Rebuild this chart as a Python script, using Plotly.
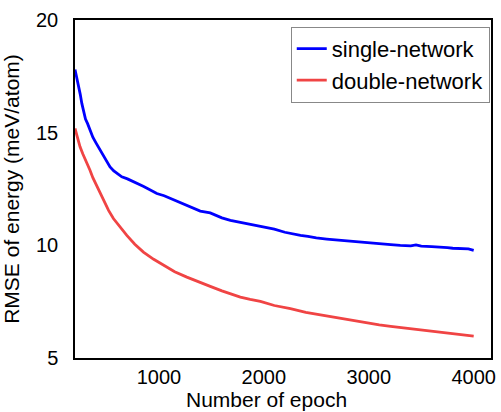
import plotly.graph_objects as go

epoch_single = [200, 215, 230, 250, 265, 279, 300, 320, 343, 370, 400, 423, 460, 500, 534, 570, 600, 646, 700, 750, 789, 850, 900, 980,
                1050, 1100, 1150, 1203, 1250, 1300, 1394, 1489, 1550, 1600, 1681, 1750, 1800, 1900, 1999, 2100, 2200, 2280, 2349,
                2420, 2500, 2600, 2731, 2827, 2900, 3000, 3100, 3209, 3300, 3400, 3450, 3500, 3600, 3686, 3750, 3800, 3900, 3950, 4000]
rmse_single = [17.8, 17.5, 17.1, 16.7, 16.3, 16.0, 15.6, 15.4, 15.1, 14.8, 14.55, 14.37, 14.05, 13.75, 13.48, 13.3, 13.2, 13.04, 12.95, 12.85, 12.74, 12.62, 12.5, 12.3,
               12.2, 12.1, 12.02, 11.93, 11.83, 11.72, 11.52, 11.44, 11.3, 11.22, 11.11, 11.05, 11.0, 10.9, 10.81, 10.72, 10.58, 10.5, 10.44,
               10.4, 10.33, 10.28, 10.22, 10.18, 10.15, 10.1, 10.06, 10.03, 10.0, 9.98, 10.02, 9.96, 9.94, 9.93, 9.9, 9.87, 9.83, 9.84, 9.78]

epoch_double = [200, 220, 248, 275, 300, 320, 343, 370, 400, 435, 471, 520, 566, 630, 694, 770, 852, 950, 1043, 1150, 1266, 1394,
                1489, 1600, 1700, 1776, 1870, 1967, 2100, 2253, 2400, 2550, 2731, 2827, 3000, 3100, 3209, 3400, 3550, 3686, 3850, 4000]
rmse_double = [15.19, 14.8, 14.37, 14.05, 13.8, 13.55, 13.33, 13.0, 12.7, 12.35, 12.0, 11.55, 11.19, 10.8, 10.44, 10.05, 9.7, 9.38, 9.11, 8.83, 8.59, 8.34,
               8.18, 7.98, 7.82, 7.7, 7.6, 7.51, 7.33, 7.19, 7.02, 6.9, 6.74, 6.67, 6.55, 6.47, 6.4, 6.29, 6.2, 6.15, 6.06, 5.97]

x_ticks = [1000, 2000, 3000, 4000]
y_ticks = [5, 10, 15, 20]
x_title = "Number of epoch"
y_title = "RMSE of energy (meV/atom)"

font_family = "Liberation Sans, Arial, sans-serif"

fig = go.Figure()
fig.add_trace(go.Scatter(x=epoch_single, y=rmse_single, mode="lines", name="single-network",
                         line=dict(color="#0000FF", width=2.8)))
fig.add_trace(go.Scatter(x=epoch_double, y=rmse_double, mode="lines", name="double-network",
                         line=dict(color="#F04444", width=2.8)))

fig.update_layout(
    width=501, height=412,
    margin=dict(l=75, r=10, t=20, b=54),
    plot_bgcolor="white", paper_bgcolor="white",
    font=dict(family=font_family, size=22, color="black"),
    showlegend=True,
    legend=dict(x=0.997, y=0.98, xanchor="right", yanchor="top",
                bordercolor="#888888", borderwidth=1, bgcolor="white",
                font=dict(size=22), tracegroupgap=0, itemwidth=30),
    xaxis=dict(range=[200, 4165], tickvals=x_ticks, ticks="", showgrid=False, zeroline=False,
               showline=True, linecolor="black", linewidth=1.5, mirror=True, automargin=False,
               tickfont=dict(size=20), ticklabelstandoff=0),
    yaxis=dict(range=[5, 20], tickvals=y_ticks, ticks="", showgrid=False, zeroline=False,
               showline=True, linecolor="black", linewidth=1.5, mirror=True, automargin=False,
               title=dict(text=y_title, font=dict(size=21)),
               tickfont=dict(size=20), ticklabelstandoff=11),
    annotations=[dict(text=x_title, xref="paper", yref="paper", x=0.4615, y=-0.16,
                      xanchor="center", yanchor="bottom", showarrow=False,
                      font=dict(size=21), borderpad=0)],
)

fig.write_html("out.html")
